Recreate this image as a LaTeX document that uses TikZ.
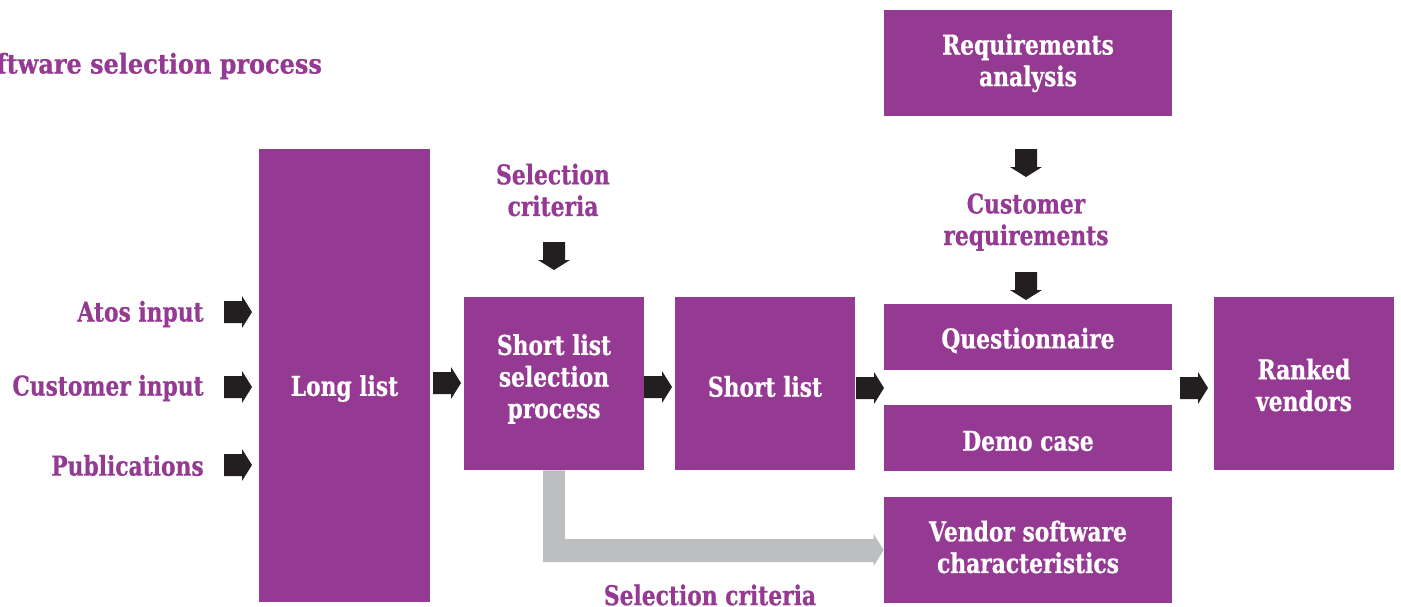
\documentclass[tikz,border=0pt]{standalone}
\usepackage{fontspec}
\setmainfont{DejaVu Serif}[FakeStretch=0.8,BoldFeatures={FakeBold=0.6}]
\newfontfamily\titlefont{DejaVu Serif}[FakeStretch=0.88,BoldFeatures={FakeBold=0.6}]
\usetikzlibrary{calc}
\definecolor{purp}{HTML}{953A92}
\definecolor{arrowc}{HTML}{231F20}
\definecolor{grayc}{HTML}{BCBEC0}
\tikzset{
  box/.style={fill=purp, text=white, inner sep=0pt, align=center,
    font=\fontsize{15.5}{18}\selectfont\bfseries},
  boxtxt/.style={text=white, inner sep=0pt, align=center,
    font=\fontsize{15.5}{18}\selectfont\bfseries},
  lbl/.style={text=purp, inner sep=0pt, align=center,
    font=\fontsize{15.5}{18}\selectfont\bfseries},
  rarrow/.pic={\fill[arrowc] (-14,-11) -- (4,-11) -- (4,-16) -- (14,0) -- (4,16) -- (4,11) -- (-14,11) -- cycle;},
  darrow/.pic={\fill[arrowc] (-11,-14) -- (11,-14) -- (11,4) -- (16,4) -- (0,14) -- (-16,4) -- (-11,4) -- cycle;},
}
\begin{document}
\begin{tikzpicture}[x=0.02cm,y=-0.02cm]
\useasboundingbox (0,0) rectangle (1401,606);
% boxes
\node[box, minimum width=5.76cm, minimum height=2.12cm] (req) at (1028,63) {Requirements\\analysis};
\node[box, minimum width=3.42cm, minimum height=9.06cm] (long) at (344.5,375.5) {};
\node[boxtxt] (longtxt) at ($(long.center)+(0,13)$) {Long list};
\node[box, minimum width=3.6cm, minimum height=3.46cm] (slsp) at (554,383.5) {};
\node[boxtxt] (slsptxt) at ($(slsp.center)+(0,-4.5)$) {Short list\\selection\\process};
\node[box, minimum width=3.6cm, minimum height=3.46cm] (sl) at (765,383.5) {};
\node[boxtxt] (sltxt) at ($(sl.center)+(0,3)$) {Short list};
\node[box, minimum width=5.76cm, minimum height=1.32cm] (q) at (1028,337) {};
\node[boxtxt] (qtxt) at ($(q.center)+(0,3.5)$) {Questionnaire};
\node[box, minimum width=5.76cm, minimum height=1.32cm] (demo) at (1028,438) {};
\node[boxtxt] (demotxt) at ($(demo.center)+(0,3)$) {Demo case};
\node[box, minimum width=5.76cm, minimum height=2.12cm] (vsc) at (1028,550) {};
\node[boxtxt] (vsctxt) at ($(vsc.center)+(0,-3)$) {Vendor software\\characteristics};
\node[box, minimum width=3.6cm, minimum height=3.46cm] (ranked) at (1304,383.5) {};
\node[boxtxt] (rankedtxt) at ($(ranked.center)+(0,1.5)$) {Ranked\\vendors};
% labels
\node[lbl, anchor=west, font=\fontsize{15.5}{18}\selectfont\titlefont\bfseries] (title) at (-4,66) {ftware selection process};
\node[lbl, anchor=east] (atos) at (204,314) {Atos input};
\node[lbl, anchor=east] (cust) at (204,388) {Customer input};
\node[lbl, anchor=east] (pub) at (204,465.5) {Publications};
\node[lbl] (selc) at (553,190) {Selection\\criteria};
\node[lbl] (custreq) at (1026,222) {Customer\\requirements};
\node[lbl] (selc2) at (710,595) {Selection criteria};
% block arrows
\pic at (238,312) {rarrow};
\pic at (238,387) {rarrow};
\pic at (238,465) {rarrow};
\pic at ($(long.east)!0.5!(slsp.west)+(0,3.5)$) {rarrow};
\pic at ($(slsp.east)!0.5!(sl.west)+(-1.5,3.5)$) {rarrow};
\pic at (870,388) {rarrow};
\pic at (1194,388) {rarrow};
\pic at (554,256) {darrow};
\pic at (1026,163) {darrow};
\pic at (1026,286) {darrow};
% gray connector
\fill[grayc] ($(slsp.south)+(-11,0)$) -- ($(slsp.south)+(11,0)$) |- ($(vsc.west)+(-10,-11)$)
  -- ($(vsc.west)+(-10,-16)$) -- (vsc.west) -- ($(vsc.west)+(-10,16)$) -- ($(vsc.west)+(-10,12)$)
  -| cycle;
\end{tikzpicture}
\end{document}
